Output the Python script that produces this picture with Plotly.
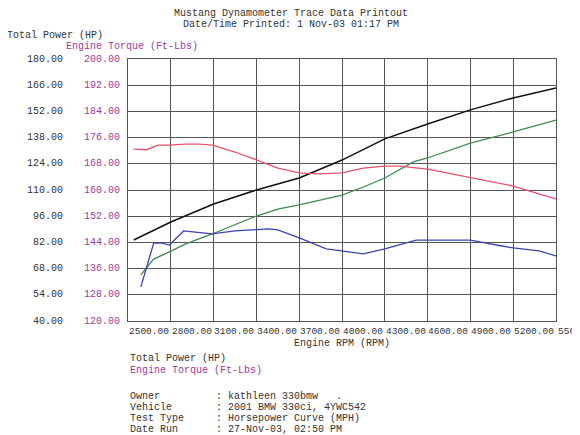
import plotly.graph_objects as go

# black: total power (HP)
hp_rpm = [2240, 2500, 2800, 3100, 3400, 3700, 4000, 4300, 4600, 4900, 5200]
hp_val = [83.3, 92.9, 102.5, 110.0, 116.4, 126.0, 137.3, 145.3, 152.8, 159.2, 164.5]

# green: second power trace (HP)
hp2_rpm = [2290, 2380, 2490, 2600, 2790, 3100, 3250, 3400, 3700, 3850, 4000, 4200, 4300, 4600, 4900, 5200]
hp2_val = [64.6, 73.1, 76.9, 81.1, 86.5, 96.1, 99.8, 102.0, 107.3, 111.6, 116.4, 125.0, 127.1, 135.1, 141.0, 147.4]

# red: engine torque (Ft-Lbs)
tq_rpm = [2240, 2330, 2410, 2490, 2600, 2700, 2790, 2950, 3100, 3250, 3400, 3550, 3700, 3850, 4000, 4100, 4300, 4600, 4900, 5080, 5200]
tq_val = [172.5, 172.3, 173.7, 173.7, 174.0, 174.0, 173.7, 171.6, 169.2, 166.7, 165.2, 164.9, 165.2, 166.7, 167.3, 167.3, 166.4, 163.7, 161.2, 158.8, 157.3]

# blue: second torque trace (Ft-Lbs)
tq2_rpm = [2290, 2380, 2440, 2490, 2590, 2790, 2950, 3100, 3180, 3250, 3400, 3590, 3700, 3850, 4000, 4220, 4300, 4600, 4820, 4900, 5080, 5200]
tq2_val = [130.4, 143.8, 143.8, 143.2, 147.5, 146.6, 147.5, 147.8, 148.1, 147.8, 145.4, 142.0, 141.4, 140.5, 142.0, 144.7, 144.7, 144.7, 142.9, 142.3, 141.4, 139.9]

hp_ticks = [40, 54, 68, 82, 96, 110, 124, 138, 152, 166, 180]
tq_ticks = [120, 128, 136, 144, 152, 160, 168, 176, 184, 192, 200]
rpm_grid = [2200, 2500, 2800, 3100, 3400, 3700, 4000, 4300, 4600, 4900, 5200]
rpm_labels = [2500, 2800, 3100, 3400, 3700, 4000, 4300, 4600, 4900, 5200, 5500]

FONT = "Liberation Mono"
PURPLE = "#9a3c9e"
FS = 10

fig = go.Figure()
fig.add_trace(go.Scatter(x=tq_rpm, y=tq_val, yaxis="y2", mode="lines", line=dict(color="#e8506e", width=1.3)))
fig.add_trace(go.Scatter(x=tq2_rpm, y=tq2_val, yaxis="y2", mode="lines", line=dict(color="#3b44b0", width=1.3)))
fig.add_trace(go.Scatter(x=hp2_rpm, y=hp2_val, mode="lines", line=dict(color="#3f8a4e", width=1.3)))
fig.add_trace(go.Scatter(x=hp_rpm, y=hp_val, mode="lines", line=dict(color="#111111", width=1.5)))

ann = []
for v in hp_ticks:
    ann.append(dict(x=-0.148, y=v, xref="paper", yref="y", text=f"{v:.2f}", showarrow=False,
                    xanchor="right", font=dict(family=FONT, size=FS, color="#333")))
for v in tq_ticks:
    ann.append(dict(x=-0.013, y=v, xref="paper", yref="y2", text=f"{v:.2f}", showarrow=False,
                    xanchor="right", font=dict(family=FONT, size=FS, color=PURPLE)))
for g, lab in zip(rpm_grid, rpm_labels):
    if g == 5200:
        ann.append(dict(x=g, y=-0.01, xref="x", yref="paper", text=f"{lab}", showarrow=False,
                        xanchor="left", yanchor="top", font=dict(family=FONT, size=9.5, color="#333")))
    else:
        ann.append(dict(x=g + 300, y=-0.01, xref="x", yref="paper", text=f"{lab}.00", showarrow=False,
                        xanchor="right", yanchor="top", font=dict(family=FONT, size=9.5, color="#333")))

def txt(x, y, s, color="#333", anchor="left"):
    ann.append(dict(x=x, y=y, xref="paper", yref="paper", text=s, showarrow=False,
                    xanchor=anchor, yanchor="middle", font=dict(family=FONT, size=FS, color=color)))

# paper coords: plot spans px 126..557 horizontally, 57..319 vertically
def px(x):
    return (x - 126) / 431
def py(y):
    return (319 - y) / 262

txt(px(290), py(11), "Mustang Dynamometer Trace Data Printout", anchor="center")
txt(px(290), py(23), "Date/Time Printed: 1 Nov-03 01:17 PM", anchor="center")
txt(px(2), py(33), "Total Power (HP)")
txt(px(62), py(45), "Engine Torque (Ft-Lbs)", color=PURPLE)
txt(px(341), py(341), "Engine RPM (RPM)", anchor="center")
txt(px(126), py(356), "Total Power (HP)")
txt(px(126), py(368), "Engine Torque (Ft-Lbs)", color=PURPLE)
rows = [("Owner", ": kathleen 330bmw   ."), ("Vehicle", ": 2001 BMW 330ci, 4YWC542"),
        ("Test Type", ": Horsepower Curve (MPH)"), ("Date Run", ": 27-Nov-03, 02:50 PM")]
for i, (k, v) in enumerate(rows):
    txt(px(126), py(394 + i * 11), k)
    txt(px(213), py(394 + i * 11), v)

fig.update_layout(
    width=580, height=435, margin=dict(l=120, r=32, t=51, b=122),
    paper_bgcolor="white", plot_bgcolor="white", showlegend=False,
    font=dict(family=FONT),
    xaxis=dict(range=[2200, 5200], tickvals=rpm_grid, showticklabels=False, showgrid=True,
               gridcolor="#555", gridwidth=1, zeroline=False, showline=True, linecolor="#555", mirror=True),
    yaxis=dict(range=[40, 180], tickvals=hp_ticks, showticklabels=False, gridcolor="#555",
               zeroline=False, showline=True, linecolor="#555", mirror=True),
    yaxis2=dict(range=[120, 200], overlaying="y", showticklabels=False, showgrid=False, zeroline=False),
    annotations=ann,
)
fig.write_html("out.html")
